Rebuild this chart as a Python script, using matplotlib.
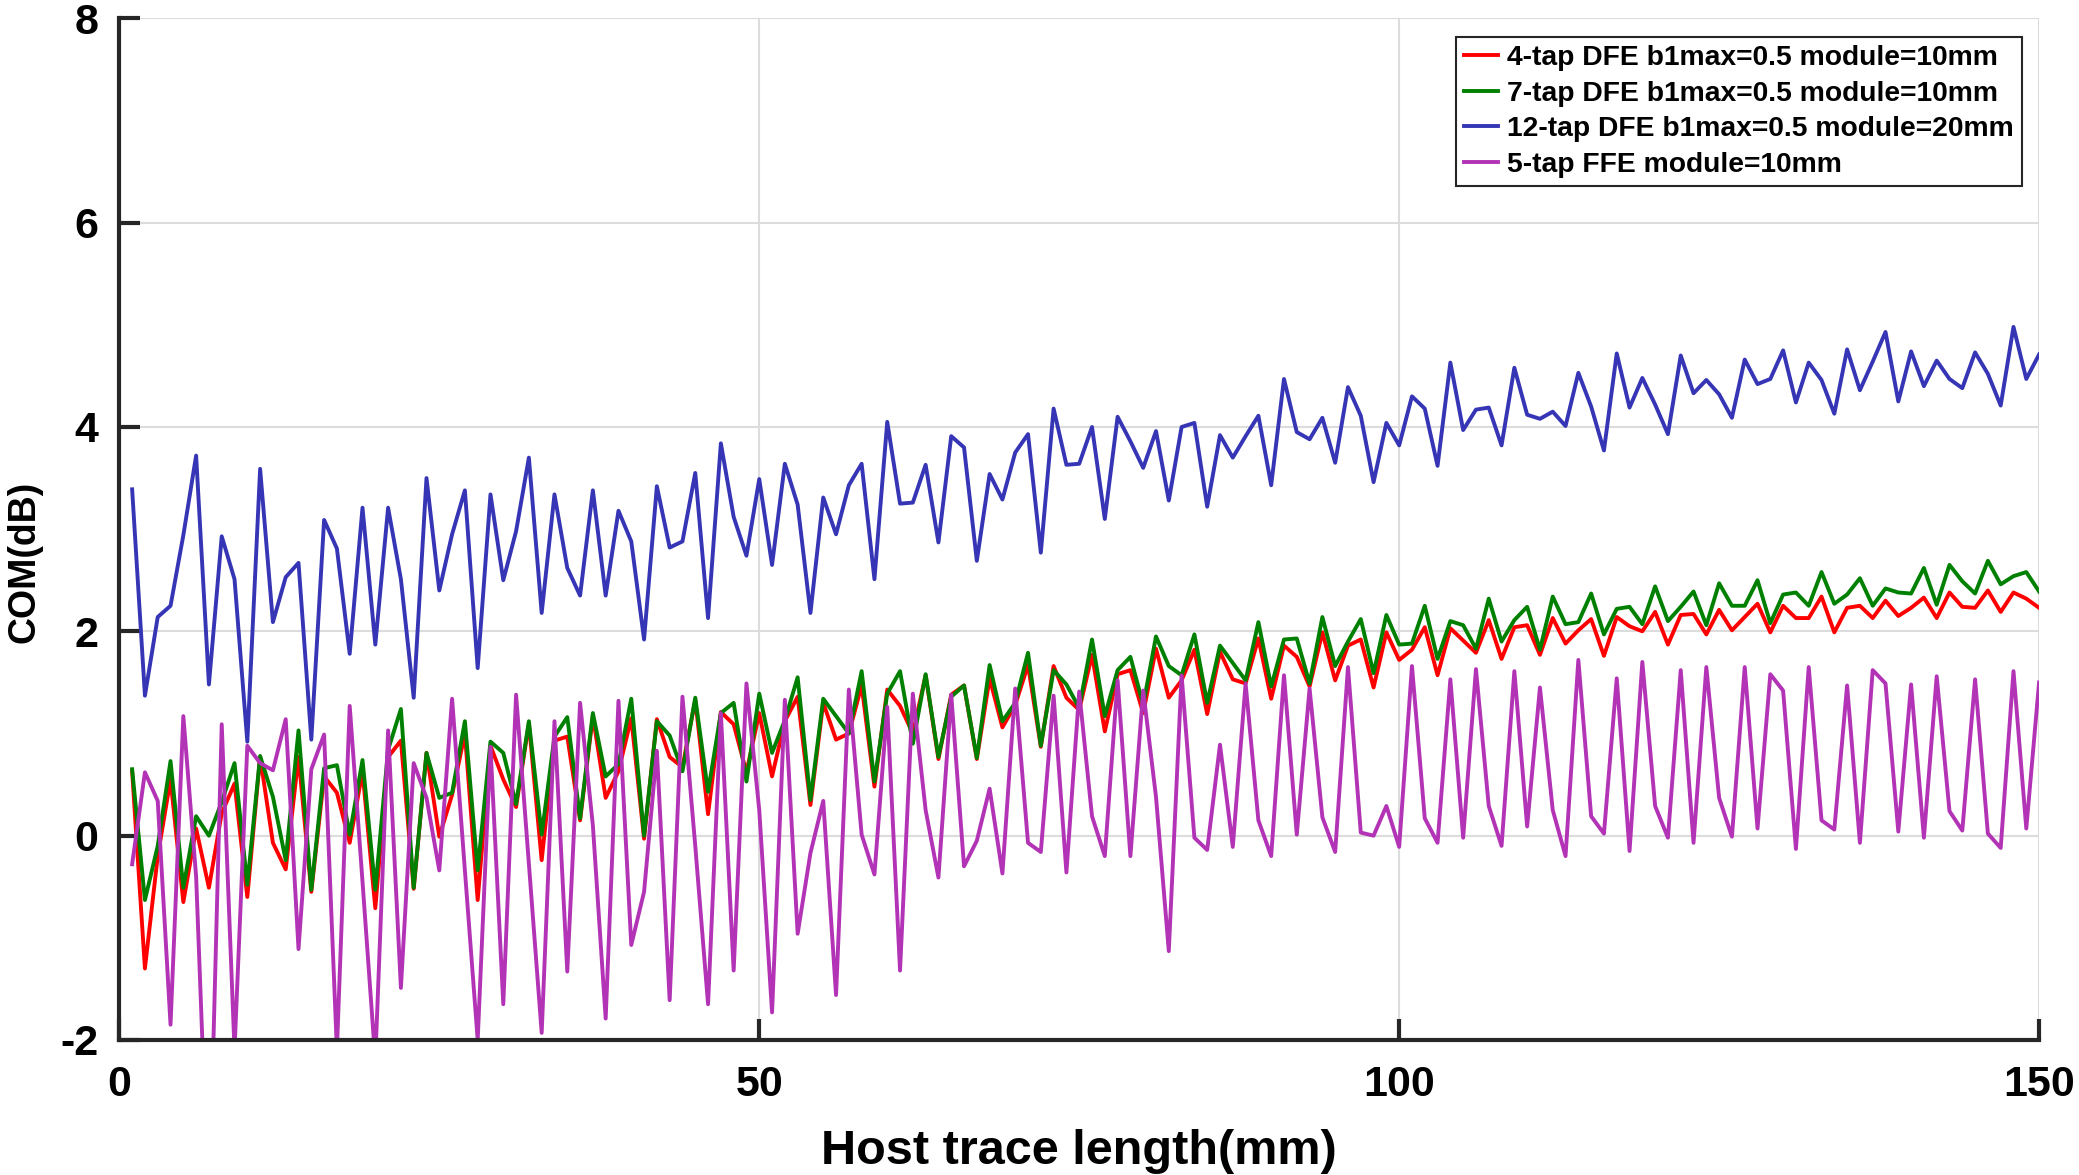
import numpy as np
import matplotlib
matplotlib.use('Agg')
import matplotlib.pyplot as plt

# host trace length in mm, one point per mm
trace_mm = np.arange(1, 151)

com_4tap = [
    0.63, -1.30, -0.20, 0.55, -0.65, 0.07, -0.51, 0.22, 0.51, -0.60, 0.77, -0.07, -0.33, 0.77, -0.55, 0.58, 0.42, -0.07, 0.63, -0.71, 0.77, 0.93, -0.52, 0.81, -0.01,
    0.40, 1.00, -0.63, 0.88, 0.55, 0.28, 1.10, -0.24, 0.93, 0.97, 0.15, 1.17, 0.37, 0.63, 1.15, -0.03, 1.14, 0.77, 0.67, 1.33, 0.21, 1.21, 1.09, 0.62, 1.20,
    0.58, 1.12, 1.36, 0.30, 1.30, 0.94, 1.00, 1.47, 0.48, 1.43, 1.27, 1.00, 1.57, 0.75, 1.38, 1.47, 0.75, 1.54, 1.06, 1.28, 1.67, 0.87, 1.66, 1.35, 1.23,
    1.77, 1.02, 1.58, 1.62, 1.20, 1.83, 1.35, 1.52, 1.82, 1.19, 1.80, 1.53, 1.49, 1.93, 1.34, 1.86, 1.75, 1.46, 1.99, 1.52, 1.86, 1.92, 1.45, 1.99, 1.72,
    1.82, 2.04, 1.57, 2.03, 1.91, 1.79, 2.11, 1.73, 2.04, 2.06, 1.77, 2.13, 1.88, 2.01, 2.12, 1.76, 2.14, 2.05, 2.00, 2.19, 1.87, 2.16, 2.17, 1.97, 2.21,
    2.01, 2.14, 2.27, 1.99, 2.25, 2.13, 2.13, 2.34, 1.99, 2.23, 2.25, 2.13, 2.30, 2.15, 2.23, 2.33, 2.13, 2.38, 2.24, 2.23, 2.40, 2.19, 2.38, 2.32, 2.23,
]

com_7tap = [
    0.65, -0.63, -0.10, 0.73, -0.51, 0.19, 0.00, 0.33, 0.71, -0.48, 0.78, 0.38, -0.24, 1.03, -0.53, 0.66, 0.69, 0.01, 0.74, -0.53, 0.84, 1.24, -0.51, 0.81, 0.37,
    0.42, 1.12, -0.34, 0.92, 0.81, 0.31, 1.12, 0.01, 0.97, 1.16, 0.17, 1.20, 0.58, 0.70, 1.34, 0.00, 1.12, 0.98, 0.63, 1.35, 0.43, 1.20, 1.30, 0.53, 1.39,
    0.81, 1.13, 1.55, 0.35, 1.34, 1.17, 1.00, 1.61, 0.53, 1.39, 1.61, 0.90, 1.58, 0.77, 1.36, 1.47, 0.76, 1.67, 1.12, 1.30, 1.79, 0.88, 1.62, 1.48, 1.25,
    1.92, 1.17, 1.62, 1.75, 1.28, 1.95, 1.66, 1.57, 1.97, 1.30, 1.86, 1.69, 1.52, 2.09, 1.46, 1.92, 1.93, 1.49, 2.14, 1.66, 1.90, 2.12, 1.59, 2.16, 1.87,
    1.88, 2.25, 1.73, 2.10, 2.06, 1.83, 2.32, 1.90, 2.11, 2.24, 1.82, 2.34, 2.07, 2.09, 2.37, 1.97, 2.22, 2.24, 2.07, 2.44, 2.10, 2.24, 2.39, 2.06, 2.47,
    2.25, 2.25, 2.50, 2.08, 2.36, 2.38, 2.25, 2.58, 2.27, 2.36, 2.52, 2.25, 2.42, 2.38, 2.37, 2.62, 2.26, 2.65, 2.49, 2.37, 2.69, 2.46, 2.54, 2.58, 2.39,
]

com_12tap = [
    3.39, 1.37, 2.14, 2.25, 2.94, 3.72, 1.48, 2.93, 2.51, 0.92, 3.59, 2.09, 2.53, 2.67, 0.94, 3.09, 2.81, 1.78, 3.21, 1.87, 3.21, 2.51, 1.35, 3.50, 2.40,
    2.95, 3.38, 1.64, 3.34, 2.50, 2.98, 3.70, 2.18, 3.34, 2.62, 2.35, 3.38, 2.35, 3.18, 2.88, 1.92, 3.42, 2.82, 2.88, 3.55, 2.13, 3.84, 3.12, 2.74, 3.49,
    2.65, 3.64, 3.24, 2.18, 3.31, 2.95, 3.43, 3.64, 2.51, 4.05, 3.25, 3.26, 3.63, 2.87, 3.91, 3.80, 2.69, 3.54, 3.29, 3.75, 3.93, 2.77, 4.18, 3.63, 3.64,
    4.00, 3.10, 4.10, 3.86, 3.60, 3.96, 3.28, 4.00, 4.04, 3.22, 3.92, 3.70, 3.91, 4.11, 3.43, 4.47, 3.95, 3.88, 4.09, 3.65, 4.39, 4.11, 3.46, 4.04, 3.82,
    4.30, 4.18, 3.62, 4.63, 3.97, 4.17, 4.19, 3.82, 4.58, 4.12, 4.08, 4.15, 4.01, 4.53, 4.20, 3.77, 4.72, 4.19, 4.48, 4.22, 3.93, 4.70, 4.33, 4.46, 4.32,
    4.09, 4.66, 4.42, 4.47, 4.75, 4.24, 4.63, 4.46, 4.13, 4.76, 4.36, 4.64, 4.93, 4.25, 4.74, 4.40, 4.65, 4.47, 4.38, 4.73, 4.52, 4.21, 4.98, 4.47, 4.71,
]

com_ffe = [
    -0.28, 0.62, 0.34, -1.85, 1.17, -0.40, -3.70, 1.09, -2.10, 0.88, 0.71, 0.64, 1.14, -1.11, 0.65, 0.99, -2.10, 1.27, -0.45, -2.20, 1.03, -1.49, 0.71, 0.37, -0.34,
    1.34, -0.34, -2.00, 0.87, -1.65, 1.38, -0.27, -1.93, 1.12, -1.33, 1.30, 0.10, -1.79, 1.32, -1.07, -0.55, 0.83, -1.61, 1.36, -0.10, -1.65, 1.20, -1.32, 1.49, 0.25,
    -1.73, 1.33, -0.96, -0.17, 0.34, -1.56, 1.43, 0.01, -0.38, 1.26, -1.32, 1.39, 0.25, -0.41, 1.38, -0.30, -0.05, 0.46, -0.37, 1.44, -0.07, -0.16, 1.37, -0.36, 1.41,
    0.19, -0.20, 1.52, -0.20, 1.42, 0.38, -1.13, 1.57, -0.02, -0.14, 0.89, -0.11, 1.49, 0.15, -0.20, 1.57, 0.01, 1.44, 0.18, -0.16, 1.65, 0.03, 0.00, 0.29, -0.11,
    1.66, 0.17, -0.07, 1.53, -0.02, 1.63, 0.29, -0.10, 1.61, 0.09, 1.45, 0.25, -0.20, 1.72, 0.19, 0.02, 1.54, -0.15, 1.70, 0.29, -0.02, 1.62, -0.07, 1.65, 0.37,
    -0.01, 1.65, 0.07, 1.58, 1.42, -0.13, 1.65, 0.15, 0.06, 1.47, -0.07, 1.62, 1.49, 0.04, 1.48, -0.02, 1.56, 0.24, 0.05, 1.53, 0.02, -0.12, 1.61, 0.07, 1.50,
]

labels = [
    '4-tap DFE b1max=0.5 module=10mm',
    '7-tap DFE b1max=0.5 module=10mm',
    '12-tap DFE b1max=0.5 module=20mm',
    '5-tap FFE module=10mm',
]
colors = ['#ff0000', '#008000', '#3535b5', '#b233b5']

plt.rcParams['font.family'] = ['Liberation Sans', 'DejaVu Sans']
plt.rcParams['font.weight'] = 'bold'
plt.rcParams['axes.unicode_minus'] = False

fig = plt.figure(figsize=(20.79, 11.75), dpi=100)
ax = fig.add_axes([0.0574, 0.1149, 0.9234, 0.8695])

# the four COM curves
for series, label, color in zip([com_4tap, com_7tap, com_12tap, com_ffe], labels, colors):
    ax.plot(trace_mm, series, color=color, linewidth=2.8, label=label)

ax.set_xlim(0, 150)
ax.set_ylim(-2, 8)
ax.set_xticks([0, 50, 100, 150])
ax.set_yticks([-2, 0, 2, 4, 6, 8])

# matlab-like look: light grid, thick left/bottom axis, inward ticks
ax.grid(True, color='#dcdcdc', linewidth=1.5)
ax.set_axisbelow(True)
for side in ['top', 'right']:
    ax.spines[side].set_visible(False)
for side in ['left', 'bottom']:
    ax.spines[side].set_linewidth(3)
    ax.spines[side].set_color('#262626')
ax.tick_params(direction='in', length=15, width=3, color='#262626', labelsize=31)
ax.tick_params(axis='x', pad=18)
ax.tick_params(axis='y', pad=15)
for lbl in ax.get_xticklabels() + ax.get_yticklabels():
    lbl.set_fontweight('bold')

ax.set_xlabel('Host trace length(mm)', fontsize=35, fontweight='bold')
ax.xaxis.set_label_coords(0.5, -0.087)
ax.xaxis.label.set_va('top')
ax.set_ylabel('COM(dB)', fontsize=27, fontweight='bold')
ax.yaxis.set_label_coords(-0.040, 0.468)

leg = ax.legend(loc='upper right', bbox_to_anchor=(0.991, 0.982), borderaxespad=0,
                prop={'size': 20.3, 'weight': 'bold'}, labelspacing=0.34,
                handlelength=1.2, handletextpad=0.3, borderpad=0.3,
                fancybox=False, framealpha=1)
leg.get_frame().set_edgecolor('#262626')
leg.get_frame().set_linewidth(1.5)

fig.savefig('out.png', dpi=100)
